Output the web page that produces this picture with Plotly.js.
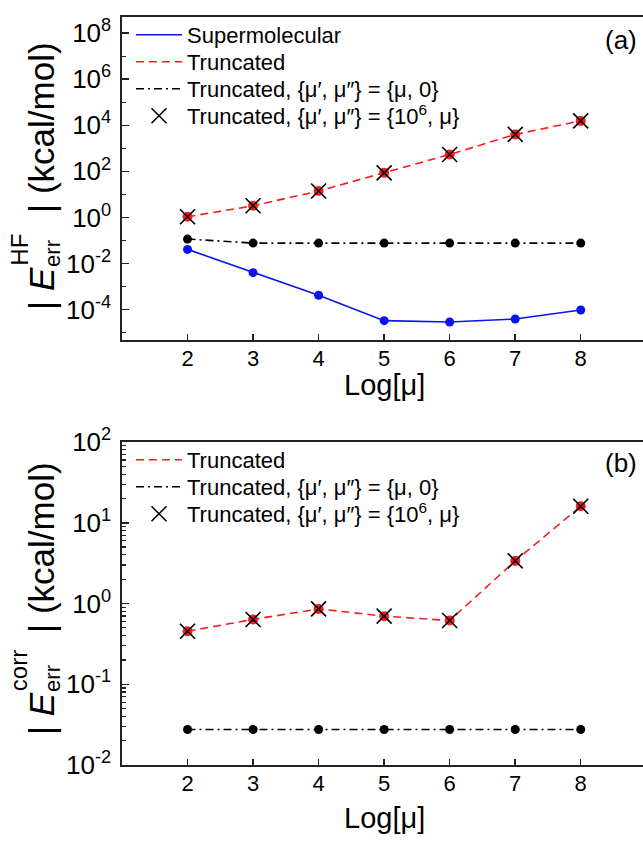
<!DOCTYPE html>
<html>
<head>
<meta charset="utf-8">
<script src="https://cdn.plot.ly/plotly-3.0.1.min.js"></script>
<style>html,body{margin:0;padding:0;background:#fff}#chart{width:643px;height:841px}</style>
</head>
<body>
<div id="chart"></div>
<script>
// ---- data ----
const logMu = [2, 3, 4, 5, 6, 7, 8];

// panel (a): |E_err^HF| (kcal/mol)
const hfSupermolecular = [0.041, 0.004, 4.2e-4, 3.3e-5, 2.9e-5, 3.9e-5, 9.6e-5];
const hfTruncated      = [1.07, 3.2, 14, 86, 540, 4000, 15500];
const hfTruncMu0       = [0.115, 0.077, 0.077, 0.077, 0.077, 0.077, 0.077];
const hfTrunc1e6       = [1.07, 3.2, 14, 86, 540, 4000, 15500];

// panel (b): |E_err^corr| (kcal/mol)
const corrTruncated = [0.454, 0.634, 0.857, 0.697, 0.615, 3.37, 16.0];
const corrTruncMu0  = [0.0275, 0.0275, 0.0275, 0.0275, 0.0275, 0.0275, 0.0275];
const corrTrunc1e6  = [0.454, 0.634, 0.857, 0.697, 0.615, 3.37, 16.0];

// tick labels
const hfTickVals  = [1e-4, 1e-2, 1, 1e2, 1e4, 1e6, 1e8];
const hfTickText  = ['10<sup>-4</sup>', '10<sup>-2</sup>', '10<sup>0</sup>', '10<sup>2</sup>', '10<sup>4</sup>', '10<sup>6</sup>', '10<sup>8</sup>'];
const hfMinorVals = [1e-5, 1e-3, 1e-1, 1e1, 1e3, 1e5, 1e7];
const corrTickVals = [0.01, 0.1, 1, 10, 100];
const corrTickText = ['10<sup>-2</sup>', '10<sup>-1</sup>', '10<sup>0</sup>', '10<sup>1</sup>', '10<sup>2</sup>'];
const corrMinorVals = [];
[0.01, 0.1, 1, 10].forEach(d => { for (let k = 2; k <= 9; k++) corrMinorVals.push(k * d); });

// legend names
const nameSuper = 'Supermolecular';
const nameTrunc = 'Truncated';
const nameMu0 = 'Truncated, {\u03BC\u2032, \u03BC\u2033} = {\u03BC, 0}';
const name1e6 = 'Truncated, {\u03BC\u2032, \u03BC\u2033} = {10<sup>6</sup>, \u03BC}';

// ---- styles ----
const BLUE = '#0a14f0', RED = '#ff1a1a', BLACK = '#000';
const redDash = '8px,5px';
const dashDot = '8px,4px,2px,4px';

function lineTrace(x, y, name, color, dash, xa, ya, leg) {
  return {x, y, name, type: 'scatter', mode: 'lines', xaxis: xa, yaxis: ya, legend: leg,
    line: {color, width: 1.6, dash}};
}
function dotTrace(x, y, color, size, xa, ya) {
  return {x, y, type: 'scatter', mode: 'markers', xaxis: xa, yaxis: ya, showlegend: false,
    marker: {color, size, symbol: 'circle'}, hoverinfo: 'skip'};
}
function crossTrace(x, y, name, xa, ya, leg) {
  return {x, y, name, type: 'scatter', mode: 'markers', xaxis: xa, yaxis: ya, legend: leg,
    marker: {symbol: 'x-thin', size: 15, color: BLACK, line: {color: BLACK, width: 1.6}}};
}

const traces = [
  lineTrace(logMu, hfSupermolecular, nameSuper, BLUE, 'solid', 'x', 'y', 'legend'),
  lineTrace(logMu, hfTruncated, nameTrunc, RED, redDash, 'x', 'y', 'legend2'),
  lineTrace(logMu, hfTruncMu0, nameMu0, BLACK, dashDot, 'x', 'y', 'legend3'),
  dotTrace(logMu, hfSupermolecular, BLUE, 9, 'x', 'y'),
  dotTrace(logMu, hfTruncated, RED, 10, 'x', 'y'),
  dotTrace(logMu, hfTruncMu0, BLACK, 9, 'x', 'y'),
  crossTrace(logMu, hfTrunc1e6, name1e6, 'x', 'y', 'legend4'),

  lineTrace(logMu, corrTruncated, nameTrunc, RED, redDash, 'x2', 'y2', 'legend5'),
  lineTrace(logMu, corrTruncMu0, nameMu0, BLACK, dashDot, 'x2', 'y2', 'legend6'),
  dotTrace(logMu, corrTruncated, RED, 10, 'x2', 'y2'),
  dotTrace(logMu, corrTruncMu0, BLACK, 9, 'x2', 'y2'),
  crossTrace(logMu, corrTrunc1e6, name1e6, 'x2', 'y2', 'legend7')
];

const AX = '#222';
const FONT = 'Arial, "Liberation Sans", sans-serif';
function xAxis(anchor) {
  return {anchor, domain: [0, 1], range: [1, 8.95], tickvals: logMu,
    ticks: 'inside', ticklen: 6, tickwidth: 1.5, tickcolor: AX,
    showline: true, linecolor: AX, linewidth: 1.6, mirror: true, ticklabelstandoff: -2,
    showgrid: false, zeroline: false, tickfont: {size: 22, color: '#000'}};
}
function yAxis(anchor, domain, range, tv, tt, mv) {
  return {anchor, domain, type: 'log', range, tickvals: tv, ticktext: tt,
    ticks: 'inside', ticklen: 7, tickwidth: 1.5, tickcolor: AX,
    minor: {tickvals: mv, ticks: 'inside', ticklen: 3.5, tickwidth: 1.2, tickcolor: AX, showgrid: false},
    showline: true, linecolor: AX, linewidth: 1.6, mirror: false,
    showgrid: false, zeroline: false, ticklabelstandoff: 4, tickfont: {size: 26, color: '#000'}};
}

// pixel -> paper helpers for text placement (margins l=122, t=17, b=76)
const PW = 521, PH = 748;
const px = v => (v - 122) / PW;
const py = v => (765 - v) / PH;

function rotText(text, size, xc, yPix, anchor) {
  return {text, xref: 'paper', yref: 'paper', x: px(xc), y: py(yPix), xanchor: 'center', yanchor: anchor,
    textangle: -90, showarrow: false, borderpad: 0, borderwidth: 0, font: {size, color: '#000', family: FONT}};
}
function plainText(text, size, xc, yPix, xanchor, yanchor) {
  return {text, xref: 'paper', yref: 'paper', x: px(xc), y: py(yPix), xanchor, yanchor,
    showarrow: false, borderpad: 0, borderwidth: 0, font: {size, color: '#000', family: FONT}};
}

const annotations = [
  // panel (a) y title: | E_err^HF | (kcal/mol)
  rotText('| <i>E</i>', 35, 41.4, 310, 'bottom'),
  rotText('HF', 24, 18.7, 266, 'bottom'),
  rotText('err', 22, 52.4, 267, 'bottom'),
  rotText('| (kcal/mol)', 35, 41.4, 42, 'top'),
  // panel (b) y title: | E_err^corr | (kcal/mol)
  rotText('| <i>E</i>', 35, 41.4, 735.2, 'bottom'),
  rotText('corr', 24, 18.7, 691, 'bottom'),
  rotText('err', 22, 52.4, 692, 'bottom'),
  rotText('| (kcal/mol)', 35, 41.4, 462, 'top'),
  // x titles
  plainText('Log[\u03BC]', 29, 384, 369, 'center', 'top'),
  plainText('Log[\u03BC]', 29, 384, 802, 'center', 'top'),
  // panel labels
  plainText('(a)', 26, 621, 40, 'center', 'middle'),
  plainText('(b)', 26, 621, 463, 'center', 'middle')
];

// one legend per entry, so each row sits where the reference has it
const legendLeft = 131;
function leg(rowCenterY) {
  return {x: px(legendLeft), y: py(rowCenterY), xanchor: 'left', yanchor: 'middle',
    bgcolor: 'rgba(0,0,0,0)', borderwidth: 0, itemwidth: 46,
    font: {size: 22, color: '#000', family: FONT}};
}

const layout = {
  width: 643, height: 841,
  margin: {l: 122, r: 0, t: 17, b: 76, pad: 0},
  paper_bgcolor: '#fff', plot_bgcolor: '#fff',
  font: {family: FONT, color: '#000'},
  showlegend: true,
  xaxis: xAxis('y'),
  yaxis: yAxis('x', [0.5682, 1], [-5.32, 8.7], hfTickVals, hfTickText, hfMinorVals),
  xaxis2: xAxis('y2'),
  yaxis2: yAxis('x2', [0, 0.4318], [-2, 2], corrTickVals, corrTickText, corrMinorVals),
  legend: leg(35), legend2: leg(62), legend3: leg(89), legend4: leg(116),
  legend5: leg(460), legend6: leg(487), legend7: leg(514),
  annotations
};

Plotly.newPlot('chart', traces, layout, {displayModeBar: false, staticPlot: true});
</script>
</body>
</html>
